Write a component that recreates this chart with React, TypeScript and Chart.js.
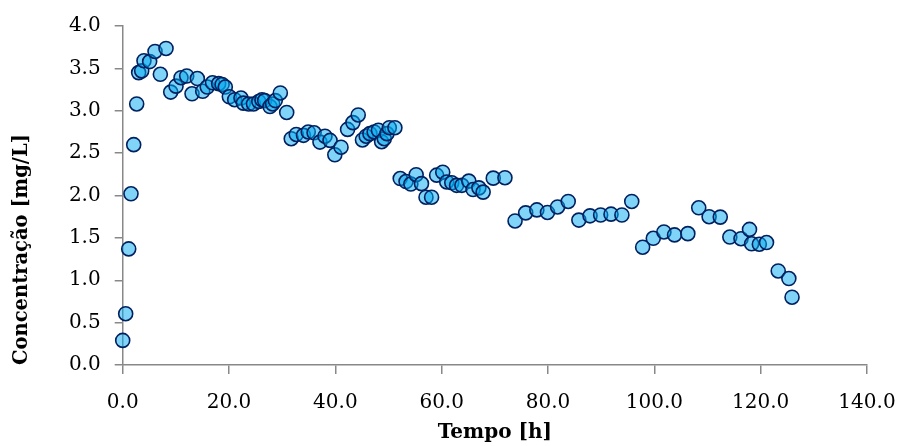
import React, { useEffect, useRef } from "react";
import { Chart, registerables } from "chart.js";

Chart.register(...registerables);

const timeHours = [
  0, 0.56, 1.13, 1.56, 2.07, 2.63, 3.0, 3.57, 4.0, 5.07, 6.08, 7.08, 8.15, 9.03, 10.03, 10.97,
  12.04, 13.04, 14.04, 15.05, 15.9, 16.9, 18.05, 18.7, 19.3, 20.06, 21.06, 22.25, 22.7, 23.7,
  24.6, 25.6, 26.2, 26.7, 27.7, 28.2, 28.7, 29.65, 30.85, 31.7, 32.65, 34.0, 34.9, 36.0, 37.1,
  38.05, 39.0, 39.9, 41.07, 42.3, 43.3, 44.3, 45.1, 45.8, 46.5, 47.3, 48.1, 48.7, 49.2, 49.7,
  50.15, 51.2, 52.2, 53.3, 54.2, 55.2, 56.2, 57.05, 58.1, 59.05, 60.2, 60.95, 61.9, 62.8, 63.8,
  65.1, 65.9, 67.0, 67.8, 69.7, 71.9, 73.8, 75.8, 77.9, 79.9, 81.8, 83.8, 85.8, 87.9, 89.9,
  91.85, 93.9, 95.75, 97.8, 99.8, 101.8, 103.8, 106.3, 108.35, 110.3, 112.4, 114.2, 116.3,
  117.9, 118.3, 119.75, 121.1, 123.3, 125.3, 125.9,
];

const concentration = [
  0.29, 0.605, 1.37, 2.02, 2.6, 3.08, 3.45, 3.47, 3.59, 3.58, 3.7, 3.43, 3.735, 3.22, 3.29, 3.39,
  3.41, 3.2, 3.38, 3.23, 3.28, 3.33, 3.32, 3.31, 3.28, 3.165, 3.13, 3.15, 3.09, 3.08,
  3.08, 3.11, 3.13, 3.12, 3.05, 3.08, 3.12, 3.21, 2.98, 2.67, 2.72, 2.71, 2.75, 2.74, 2.63,
  2.7, 2.65, 2.48, 2.57, 2.78, 2.86, 2.95, 2.655, 2.7, 2.73, 2.75, 2.77, 2.635, 2.67, 2.73,
  2.8, 2.8, 2.2, 2.165, 2.135, 2.245, 2.14, 1.98, 1.98, 2.24, 2.275, 2.16, 2.15, 2.12, 2.12,
  2.17, 2.07, 2.09, 2.04, 2.205, 2.21, 1.7, 1.795, 1.83, 1.8, 1.865, 1.93, 1.71, 1.76, 1.77,
  1.78, 1.77, 1.93, 1.39, 1.495, 1.57, 1.535, 1.55, 1.855, 1.75, 1.745, 1.51, 1.49,
  1.6, 1.43, 1.425, 1.445, 1.11, 1.02, 0.8,
];

const xAxisTitle = "Tempo [h]";
const yAxisTitle = "Concentração [mg/L]";

export default function App() {
  const canvasRef = useRef<HTMLCanvasElement | null>(null);

  useEffect(() => {
    if (!canvasRef.current) return;
    const axisGray = "#888888";
    const fontFamily = "'DejaVu Serif', serif";
    const points = timeHours.map((x, i) => ({ x, y: concentration[i] }));
    const chart = new Chart(canvasRef.current, {
      type: "scatter",
      data: {
        datasets: [
          {
            data: points,
            backgroundColor: "rgba(0, 170, 240, 0.5)",
            borderColor: "#002060",
            borderWidth: 1.6,
            pointRadius: 7,
            pointHoverRadius: 7,
            clip: false as any,
          },
        ],
      },
      options: {
        animation: false,
        responsive: true,
        maintainAspectRatio: false,
        layout: { padding: { top: 26, right: 33, left: 0, bottom: 0 } },
        plugins: { legend: { display: false }, tooltip: { enabled: false } },
        scales: {
          x: {
            type: "linear",
            min: 0,
            max: 140,
            afterFit: (s: any) => {
              s.height = 81;
              s.paddingLeft = 0;
              s.paddingRight = 0;
            },
            ticks: {
              stepSize: 20,
              padding: 17,
              color: "#000",
              font: { family: fontFamily, size: 20 },
              callback: (v: any) => Number(v).toFixed(1),
            },
            grid: { drawOnChartArea: false, drawTicks: true, tickLength: 9, color: axisGray, lineWidth: 1.5 },
            border: { color: axisGray, width: 1.5 },
            title: {
              display: true,
              text: xAxisTitle,
              color: "#000",
              font: { family: fontFamily, size: 20, weight: "bold" },
              padding: { top: 0, bottom: 1 },
            },
          },
          y: {
            type: "linear",
            min: 0,
            max: 4,
            afterFit: (s: any) => {
              s.width = 122.7;
              s.paddingTop = 0;
              s.paddingBottom = 0;
            },
            ticks: {
              stepSize: 0.5,
              padding: 14,
              color: "#000",
              font: { family: fontFamily, size: 20 },
              callback: (v: any) => Number(v).toFixed(1),
            },
            grid: { drawOnChartArea: false, drawTicks: true, tickLength: 8, color: axisGray, lineWidth: 1.5 },
            border: { color: axisGray, width: 1.5 },
            title: {
              display: true,
              text: yAxisTitle,
              align: "start",
              color: "#000",
              font: { family: fontFamily, size: 19.5, weight: "bold" },
              padding: { top: 10, bottom: 0 },
            },
          },
        },
      },
    });
    return () => chart.destroy();
  }, []);

  return (
    <div style={{ position: "fixed", left: 0, top: 0, width: 900, height: 446, background: "#fff" }}>
      <canvas ref={canvasRef} />
    </div>
  );
}
